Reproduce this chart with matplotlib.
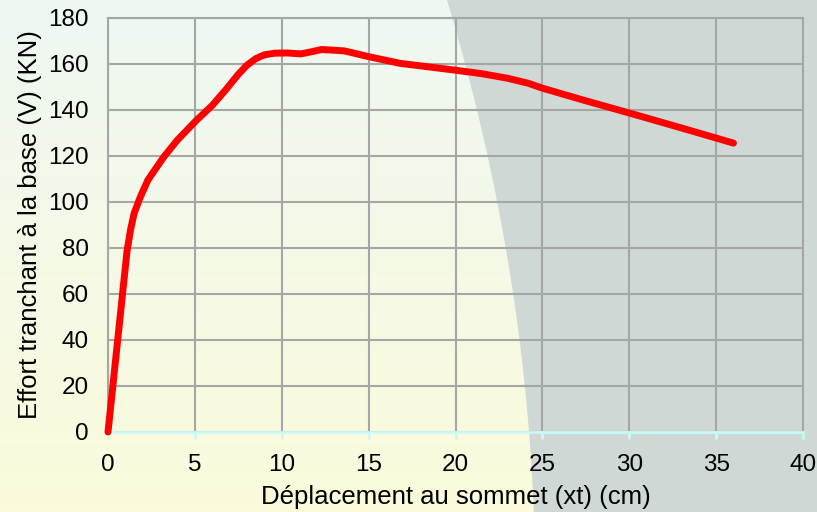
import numpy as np
import matplotlib.pyplot as plt
from matplotlib.colors import LinearSegmentedColormap

plt.rcParams['font.family'] = ['Liberation Sans', 'DejaVu Sans']

# displacement (cm) vs base shear (kN)
depl = [0, 1.1, 1.3, 1.5, 1.85, 2.3, 2.7, 3.2, 4.0, 5.1, 6.0, 6.8, 7.5, 8.0, 8.5,
        9.0, 9.6, 10.3, 11.1, 11.7, 12.3, 13.0, 13.6, 15.0, 16.8, 18.5, 20.0,
        21.5, 23.0, 24.2, 25.0, 27.5, 30.0, 33.0, 36.0]
effort = [0, 79, 88, 95, 102, 109.6, 114, 119.5, 127, 135.6, 142, 149, 155.5, 159.5, 162.3,
          164, 164.7, 164.8, 164.4, 165.3, 166.3, 166, 165.7, 163.2, 160.3, 158.7, 157.3,
          155.8, 153.8, 151.6, 149.5, 144, 138.7, 132.2, 125.6]

xticks = [0, 5, 10, 15, 20, 25, 30, 35, 40]
yticks = [0, 20, 40, 60, 80, 100, 120, 140, 160, 180]

W, H = 817, 512
fig = plt.figure(figsize=(W / 100, H / 100), dpi=100)

# background: vertical gradient on the left, grey band on the right
bg = fig.add_axes([0, 0, 1, 1], zorder=-1)
bg.set_xlim(0, W)
bg.set_ylim(H, 0)
bg.axis('off')
cmap = LinearSegmentedColormap.from_list('bg', ['#eef7f2', '#fbfbdb'])
grad = np.linspace(0, 1, 256).reshape(-1, 1)
bg.imshow(grad, cmap=cmap, extent=[0, W, H, 0], aspect='auto')
edge_y = np.linspace(0, H, 60)
edge_x = 447 + 0.30 * edge_y - 0.000255 * edge_y ** 2
bg.fill(list(edge_x) + [W, W], list(edge_y) + [H, 0], color='#cfd8d5', lw=0)

ax = fig.add_axes([108 / W, 80 / H, 695 / W, 414 / H])
ax.set_facecolor('none')
ax.plot(depl, effort, color='#ff0000', lw=5, solid_capstyle='round',
        solid_joinstyle='round', zorder=3, clip_on=False)

ax.set_xlim(0, 40)
ax.set_ylim(0, 180)
ax.set_xticks(xticks)
ax.set_yticks(yticks)
ax.grid(True, color='#a6a6a6', lw=1.5)
ax.set_axisbelow(True)
for s in ['top', 'right', 'left']:
    ax.spines[s].set_color('#a6a6a6')
    ax.spines[s].set_linewidth(1.5)
ax.spines['bottom'].set_color('#c8fafa')
ax.spines['bottom'].set_linewidth(2)
ax.tick_params(axis='x', direction='out', length=5, width=2, color='#c8fafa',
               labelsize=17.5, pad=10.5)
ax.tick_params(axis='y', length=0, labelsize=17.5, pad=14)

ax.set_xlabel('Déplacement au sommet (xt) (cm)', fontsize=18.5, labelpad=7)
ax.set_ylabel('Effort tranchant à la base (V) (KN)', fontsize=18.5, labelpad=4.5)

fig.savefig('out.png', dpi=100)
